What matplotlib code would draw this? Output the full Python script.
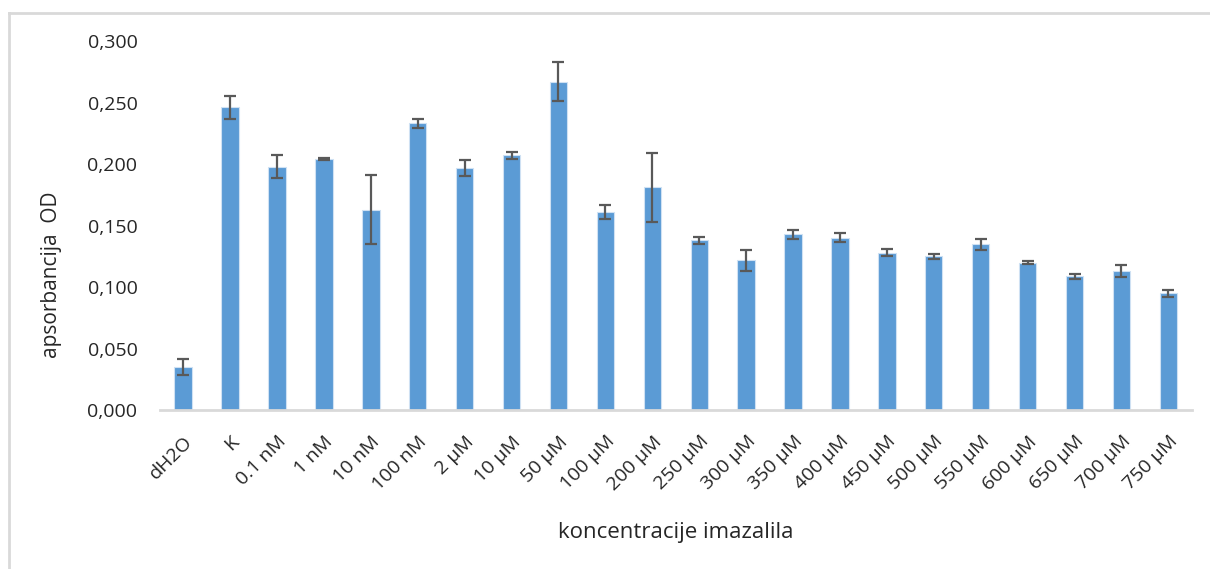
import numpy as np
import matplotlib.pyplot as plt
from matplotlib.lines import Line2D

plt.rcParams["font.family"] = ["Open Sans", "DejaVu Sans"]

labels = ["dH2O", "K", "0.1 nM", "1 nM", "10 nM", "100 nM", "2 µM", "10 µM",
          "50 µM", "100 µM", "200 µM", "250 µM", "300 µM", "350 µM", "400 µM",
          "450 µM", "500 µM", "550 µM", "600 µM", "650 µM", "700 µM", "750 µM"]
values = [0.035, 0.246, 0.198, 0.204, 0.163, 0.233, 0.197, 0.207,
          0.267, 0.161, 0.181, 0.138, 0.122, 0.143, 0.140,
          0.128, 0.125, 0.135, 0.120, 0.109, 0.113, 0.095]
errors = [0.0065, 0.009, 0.009, 0.001, 0.028, 0.004, 0.0065, 0.0025,
          0.016, 0.0057, 0.028, 0.003, 0.0085, 0.0037, 0.0037,
          0.003, 0.002, 0.0045, 0.001, 0.002, 0.005, 0.003]

fig = plt.figure(figsize=(12.10, 5.69), dpi=100)
ax = fig.add_axes([0.132, 0.279, 0.853, 0.649])

x = np.arange(len(labels))
ax.bar(x, values, width=0.37, color="#5b9bd5", edgecolor="#cfe1f3", linewidth=0.8,
       yerr=errors, capsize=4,
       error_kw=dict(ecolor="#595959", elinewidth=1.6, capthick=1.6))

ax.set_xlim(-0.5, len(labels) - 0.5)
ax.set_ylim(0, 0.3)
yt = np.arange(0, 0.301, 0.05)
ax.set_yticks(yt)
ax.set_yticklabels([f"{v:.3f}".replace(".", ",") for v in yt])
ax.set_xticks(x)
ax.set_xticklabels(labels, rotation=45, ha="right", rotation_mode="anchor")

for s in ["top", "right", "left"]:
    ax.spines[s].set_visible(False)
ax.spines["bottom"].set_color("#d9d9d9")
ax.spines["bottom"].set_linewidth(2)
ax.tick_params(axis="both", length=0, labelsize=14, colors="#262626")
ax.tick_params(axis="y", pad=16)
ax.tick_params(axis="x", pad=16)

ax.set_ylabel("apsorbancija  OD", fontsize=15, color="#262626")
ax.yaxis.set_label_coords(-0.105, 0.366)
ax.set_xlabel("koncentracije imazalila", fontsize=16, color="#262626")
ax.xaxis.set_label_coords(0.5, -0.331)
ax.xaxis.label.set_va("center")
ax.yaxis.label.set_va("center")

# chart area border (only top and left edges visible)
fig.add_artist(Line2D([9 / 1210, 9 / 1210], [0, 1 - 13 / 569], color="#d9d9d9", lw=2,
                      transform=fig.transFigure))
fig.add_artist(Line2D([9 / 1210, 1], [1 - 13 / 569, 1 - 13 / 569], color="#d9d9d9", lw=2,
                      transform=fig.transFigure))

fig.savefig("out.png", dpi=100)
